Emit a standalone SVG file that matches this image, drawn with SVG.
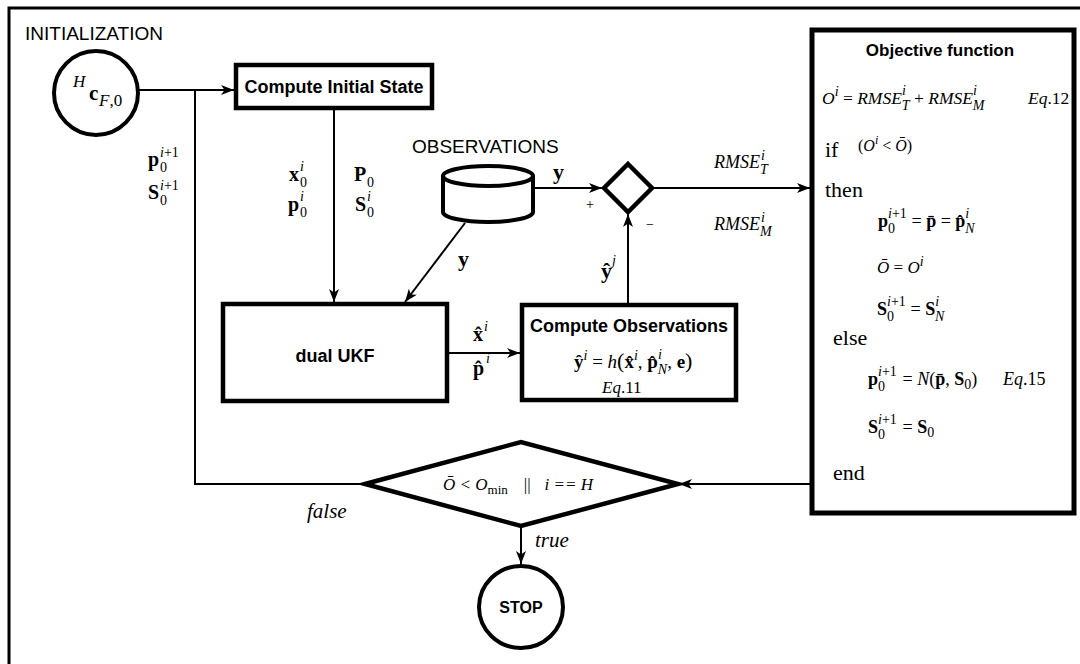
<svg xmlns="http://www.w3.org/2000/svg" width="1080" height="664" viewBox="0 0 1080 664">
<style>
.ln{fill:none;stroke:#000;stroke-width:2}
.box{fill:#fff;stroke:#000;stroke-width:4.5}
.sa{font-family:"Liberation Sans",Arial,sans-serif;fill:#000}
.bl{font-family:"Liberation Sans",Arial,sans-serif;font-weight:bold;fill:#000}
.m{font-family:"Liberation Serif","Times New Roman",serif;fill:#000}
.mb{font-family:"Liberation Serif","Times New Roman",serif;font-weight:bold;fill:#000}
.it{font-style:italic;font-weight:normal}
.up{font-style:normal;font-weight:normal}
.s{font-size:14px}
</style>
<defs>
<marker id="ah" markerUnits="userSpaceOnUse" viewBox="0 0 13 10" markerWidth="13" markerHeight="10" refX="13" refY="5" orient="auto">
<path d="M0,0 L13,5 L0,10 L3.5,5 z" fill="#000"/>
</marker>
</defs>
<rect x="0" y="0" width="1080" height="664" fill="#fff"/>
<path d="M9,664 V8 H1080" fill="none" stroke="#000" stroke-width="3"/>
<text class="sa" x="25" y="40" font-size="19">INITIALIZATION</text>

<g id="connectors">
<line class="ln" x1="138" y1="90" x2="234" y2="90" stroke-width="2.6" marker-end="url(#ah)"/>
<polyline class="ln" points="366,484 195,484 195,90"/>
<line class="ln" x1="334" y1="108" x2="334" y2="302" marker-end="url(#ah)"/>
<line class="ln" x1="533" y1="188" x2="602" y2="188" marker-end="url(#ah)"/>
<line class="ln" x1="465" y1="223" x2="405" y2="302" marker-end="url(#ah)"/>
<line class="ln" x1="653" y1="188" x2="810" y2="188" marker-end="url(#ah)"/>
<line class="ln" x1="628" y1="303" x2="628" y2="214" marker-end="url(#ah)"/>
<line class="ln" x1="447" y1="353" x2="520" y2="353" marker-end="url(#ah)"/>
<line class="ln" x1="810" y1="484" x2="679" y2="484" marker-end="url(#ah)"/>
<line class="ln" x1="521" y1="527" x2="521" y2="564" stroke-width="1.5" marker-end="url(#ah)"/>
</g>

<g id="labels">
<text class="mb" x="148" y="166" font-size="20">p<tspan class="s up" x="160" y="157"><tspan class="it">i</tspan>+1</tspan><tspan class="s up" x="160" y="172">0</tspan></text>
<text class="mb" x="148" y="199" font-size="20">S<tspan class="s up" x="160" y="190"><tspan class="it">i</tspan>+1</tspan><tspan class="s up" x="160" y="205">0</tspan></text>
<text class="mb" x="289" y="181" font-size="20">x<tspan class="s it" x="300" y="171">i</tspan><tspan class="s up" x="300" y="187">0</tspan></text>
<text class="mb" x="288" y="211" font-size="20">p<tspan class="s it" x="300" y="201">i</tspan><tspan class="s up" x="300" y="217">0</tspan></text>
<text class="mb" x="354" y="181" font-size="20">P<tspan class="s up" x="367" y="187">0</tspan></text>
<text class="mb" x="355" y="211" font-size="20">S<tspan class="s it" x="367" y="201">i</tspan><tspan class="s up" x="367" y="217">0</tspan></text>
<text class="sa" x="412" y="153" font-size="19">OBSERVATIONS</text>
<text class="mb" x="553" y="179" font-size="22">y</text>
<text class="m" x="586" y="209" font-size="14">+</text>
<text class="m" x="646" y="229" font-size="14">−</text>
<text class="m it" x="714" y="168" font-size="18">RMSE<tspan class="s" x="761" y="160">i</tspan><tspan class="s" x="760" y="174">T</tspan></text>
<text class="m it" x="714" y="230" font-size="18">RMSE<tspan class="s" x="761" y="222">i</tspan><tspan class="s" x="760" y="236">M</tspan></text>
<text class="mb" x="458" y="266" font-size="22">y</text>
<text class="mb" x="601" y="278" font-size="22">ŷ<tspan class="s it" x="612" y="265">j</tspan></text>
<text class="mb" x="473" y="341" font-size="20">x̂<tspan class="s it" x="484" y="331">i</tspan></text>
<text class="mb" x="473" y="375" font-size="20">p̂<tspan class="s it" x="486" y="363">i</tspan></text>
<text class="m it" x="307" y="518" font-size="21">false</text>
<text class="m it" x="535" y="547" font-size="21">true</text>
</g>

<g id="init">
<circle cx="96" cy="93" r="42" fill="#fff" stroke="#000" stroke-width="4"/>
<text class="m it" x="73" y="87" font-size="17">H</text>
<text class="mb" x="89" y="100" font-size="21">c</text>
<text class="m it" x="99" y="106" font-size="17">F<tspan class="up">,0</tspan></text>
</g>

<g id="compute-initial-state">
<rect class="box" x="236" y="65" width="196" height="43"/>
<text class="bl" x="334" y="93" font-size="18" text-anchor="middle">Compute Initial State</text>
</g>

<g id="observations">
<path d="M443,176 V212 A45,10 0 0 0 533,212 V176" fill="#fff" stroke="#000" stroke-width="4"/>
<ellipse cx="488" cy="176" rx="45" ry="10" fill="#fff" stroke="#000" stroke-width="4"/>
</g>

<g id="sum">
<polygon points="628,164 652,188 628,212 604,188" fill="#fff" stroke="#000" stroke-width="4.5"/>
</g>

<g id="dual-ukf">
<rect class="box" x="223" y="304" width="224" height="97"/>
<text class="bl" x="335" y="362" font-size="18" text-anchor="middle">dual UKF</text>
</g>

<g id="compute-observations">
<rect class="box" x="522" y="305" width="214" height="95"/>
<text class="bl" x="629" y="332" font-size="18" text-anchor="middle">Compute Observations</text>
<text class="mb" x="574" y="368" font-size="19">ŷ<tspan class="s it" dy="-8">i</tspan><tspan class="up" dy="8" font-size="19"> = </tspan><tspan class="it" font-size="19">h</tspan><tspan class="up" font-size="22">(</tspan>x̂<tspan class="s it" dy="-8">i</tspan><tspan class="up" dy="8">, </tspan>p̂<tspan class="s it" dy="-9">i</tspan><tspan class="s it" dx="-4" dy="15">N</tspan><tspan class="up" dy="-6">, </tspan>e<tspan class="up" font-size="22">)</tspan></text>
<text class="m it" x="602" y="393" font-size="17">Eq<tspan class="up">.11</tspan></text>
</g>

<g id="objective-function">
<rect x="812" y="30" width="262" height="483" fill="#fff" stroke="#000" stroke-width="5"/>
<text class="bl" x="940" y="56" font-size="17" text-anchor="middle">Objective function</text>
<text class="m it" x="822" y="104" font-size="17.5">O<tspan class="s" dy="-8">i</tspan><tspan class="up" dy="8"> = </tspan>RMSE<tspan class="s" dy="-9">i</tspan><tspan class="s" dx="-4" dy="15">T</tspan><tspan class="up" dy="-6"> + </tspan>RMSE<tspan class="s" dy="-9">i</tspan><tspan class="s" dx="-4" dy="15">M</tspan></text>
<text class="m it" x="1028" y="104" font-size="17.5">Eq<tspan class="up">.12</tspan></text>
<text class="m" x="825" y="157" font-size="22">if</text>
<text class="m" x="858" y="151" font-size="16">(<tspan class="it">O</tspan><tspan class="it" font-size="12" dy="-7">i</tspan><tspan dy="7"> &lt; </tspan><tspan class="it">Ō</tspan>)</text>
<text class="m" x="825" y="197" font-size="22">then</text>
<text class="mb" x="878" y="227" font-size="18">p<tspan class="s up" x="888" y="218"><tspan class="it">i</tspan>+1</tspan><tspan class="s up" x="888" y="233">0</tspan><tspan class="up" x="907" y="227"> = </tspan>p̄<tspan class="up"> = </tspan>p̂<tspan class="s it" dy="-9">i</tspan><tspan class="s it" dx="-4" dy="15">N</tspan></text>
<text class="m it" x="877" y="273" font-size="17">Ō<tspan class="up"> = </tspan>O<tspan class="s" dy="-7">i</tspan></text>
<text class="mb" x="877" y="315" font-size="18">S<tspan class="s up" x="887" y="306"><tspan class="it">i</tspan>+1</tspan><tspan class="s up" x="887" y="321">0</tspan><tspan class="up" x="906" y="315"> = </tspan>S<tspan class="s it" dy="-9">i</tspan><tspan class="s it" dx="-4" dy="15">N</tspan></text>
<text class="m" x="833" y="345" font-size="22">else</text>
<text class="mb" x="868" y="385" font-size="18">p<tspan class="s up" x="878" y="376"><tspan class="it">i</tspan>+1</tspan><tspan class="s up" x="878" y="391">0</tspan><tspan class="up" x="898" y="385"> = </tspan><tspan class="it">N</tspan><tspan class="up">(</tspan>p̄<tspan class="up">, </tspan>S<tspan class="up" font-size="14" dy="4">0</tspan><tspan class="up" dy="-4">)</tspan></text>
<text class="m it" x="1003" y="385" font-size="18">Eq<tspan class="up">.15</tspan></text>
<text class="mb" x="868" y="433" font-size="18">S<tspan class="s up" x="878" y="424"><tspan class="it">i</tspan>+1</tspan><tspan class="s up" x="878" y="439">0</tspan><tspan class="up" x="898" y="433"> = </tspan>S<tspan class="up" font-size="14" dy="4">0</tspan></text>
<text class="m" x="833" y="480" font-size="22">end</text>
</g>

<g id="decision">
<polygon points="365,484 521,442 678,484 521,526" fill="#fff" stroke="#000" stroke-width="4.5"/>
<text class="m it" x="443" y="490" font-size="17">Ō &lt; O<tspan class="up" font-size="13" dy="4">min</tspan><tspan class="up" dy="-4" dx="16">||</tspan><tspan dx="14">i == H</tspan></text>
</g>

<g id="stop">
<ellipse cx="521" cy="607" rx="42" ry="41" fill="#fff" stroke="#000" stroke-width="4"/>
<text class="bl" x="521" y="613" font-size="16" text-anchor="middle">STOP</text>
</g>
</svg>
